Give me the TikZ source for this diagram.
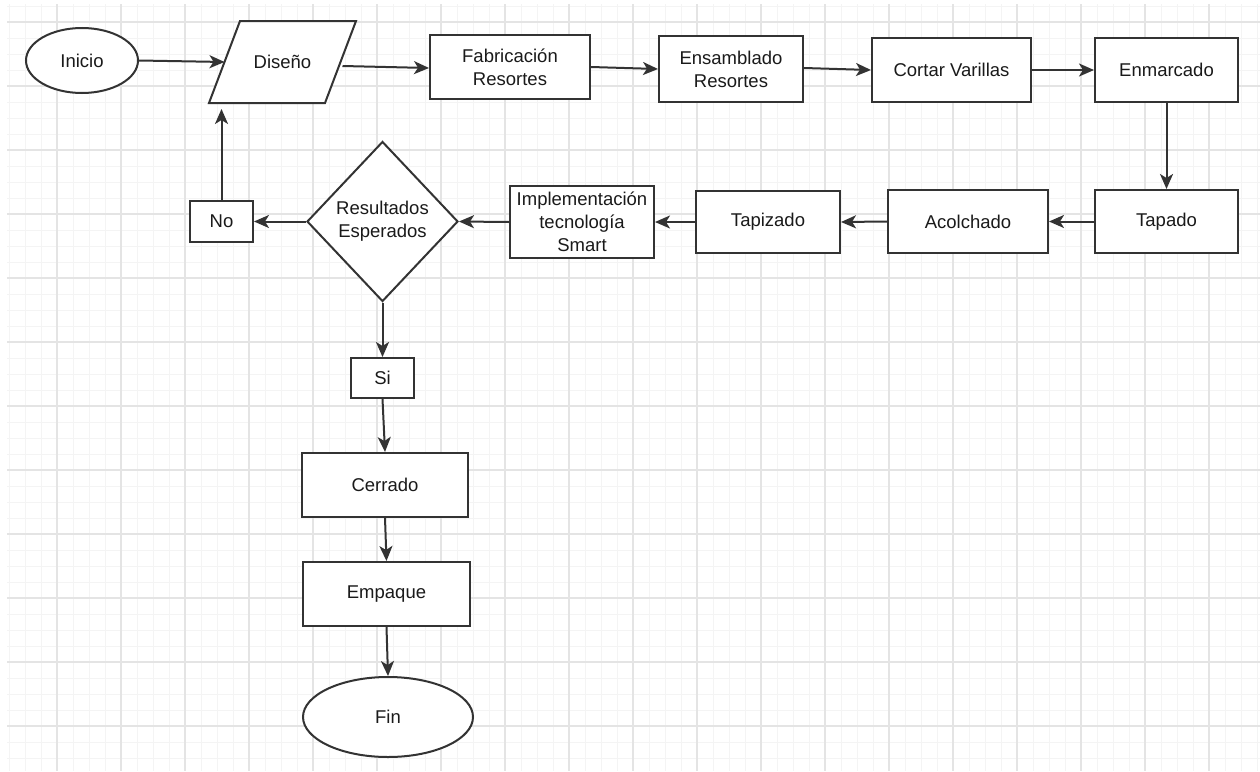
\documentclass[tikz,border=0pt]{standalone}
\usepackage{fontspec}
\setmainfont{Liberation Sans}
\usetikzlibrary{shapes.geometric,arrows.meta}
\definecolor{gridminor}{HTML}{F4F4F4}
\definecolor{gridmajor}{HTML}{E4E4E4}
\definecolor{ink}{HTML}{333333}
\definecolor{txt}{HTML}{1A1A1A}
\begin{document}
\begin{tikzpicture}[x=1pt,y=1pt,
  shp/.style={draw=ink, line width=2pt, fill=white, inner sep=0pt, align=center,
    text=txt, font=\fontsize{18.5pt}{23pt}\selectfont},
  boxn/.style={shp, rectangle},
  ell/.style={shp, ellipse},
  dec/.style={shp, diamond, aspect=0.94},
  arr/.style={draw=ink, line width=2pt, -{Stealth[length=15pt,width=13pt,inset=4pt]}}]
\useasboundingbox (0,0) rectangle (1260,-771);
\fill[white] (0,0) rectangle (1260,-771);
% grid
\begin{scope}
\clip (7,-4) rectangle (1260,-771);
\foreach \gx in {9,25,...,1257} \draw[gridminor, line width=1pt] (\gx,-4) -- (\gx,-771);
\foreach \gy in {6,22,...,766} \draw[gridminor, line width=1pt] (7,-\gy) -- (1260,-\gy);
\foreach \gx in {57,121,...,1257} \draw[gridmajor, line width=1.2pt] (\gx,-4) -- (\gx,-771);
\foreach \gy in {22,86,...,766} \draw[gridmajor, line width=1.2pt] (7,-\gy) -- (1260,-\gy);
\end{scope}
% nodes
\node[ell, minimum width=112pt, minimum height=65pt] (inicio) at (82,-60.5) {Inicio};
\node[shp, draw=none, fill=none, rectangle, minimum width=114pt, minimum height=80pt] (diseno) at (282.5,-62) {};
\filldraw[draw=ink, fill=white, line width=2pt, line join=miter]
  ([xshift=-15.5pt]diseno.south west) -- ([xshift=15.5pt]diseno.north west)
  -- ([xshift=15.5pt]diseno.north east) -- ([xshift=-15.5pt]diseno.south east) -- cycle;
\node[shp, draw=none, fill=none] at (diseno.center) {Diseño};
\node[boxn, minimum width=160pt, minimum height=64pt] (fab) at (510,-67) {Fabricación\\Resortes};
\node[boxn, minimum width=144pt, minimum height=66pt] (ens) at (731,-69) {Ensamblado\\Resortes};
\node[boxn, minimum width=159pt, minimum height=64pt] (cortar) at (951.5,-70) {Cortar Varillas};
\node[boxn, minimum width=143pt, minimum height=64pt] (enm) at (1166.5,-70) {Enmarcado};
\node[boxn, minimum width=143pt, minimum height=63pt] (tapado) at (1166.5,-221.5) {Tapado};
\node[boxn, minimum width=160pt, minimum height=63pt] (acol) at (968,-221.5) {Acolchado};
\node[boxn, minimum width=144pt, minimum height=62pt] (tapiz) at (768,-222) {Tapizado};
\node[boxn, minimum width=144pt, minimum height=72pt] (impl) at (582,-222) {Implementación\\tecnología\\Smart};
\node[dec, minimum width=151pt, minimum height=160pt] (res) at (382.5,-221.5) {Resultados\\Esperados};
\node[boxn, minimum width=63pt, minimum height=41pt] (no) at (221.5,-221.5) {No};
\node[boxn, minimum width=63pt, minimum height=40pt] (si) at (382.5,-378) {Si};
\node[boxn, minimum width=166pt, minimum height=64pt] (cerr) at (385,-485) {Cerrado};
\node[boxn, minimum width=167pt, minimum height=64pt] (emp) at (386.5,-594) {Empaque};
\node[ell, minimum width=170pt, minimum height=80pt] (fin) at (388,-717) {Fin};
% connectors
\draw[arr] (inicio.east) -- (diseno.west);
\draw[arr] ([xshift=2pt,yshift=-4pt]diseno.east) -- ([yshift=-1pt]fab.west);
\draw[arr] (fab.east) -- (ens.west);
\draw[arr] ([yshift=1pt]ens.east) -- (cortar.west);
\draw[arr] (cortar.east) -- (enm.west);
\draw[arr] (enm.south) -- (tapado.north);
\draw[arr] (tapado.west) -- (acol.east);
\draw[arr] (acol.west) -- (tapiz.east);
\draw[arr] (tapiz.west) -- (impl.east);
\draw[arr] (impl.west) -- (res.east);
\draw[arr] (res.west) -- (no.east);
\draw[arr, shorten >=6pt] (no.north) -- (no.north |- diseno.south);
\draw[arr] (res.south) -- (si.north);
\draw[arr] (si.south) -- (cerr.north);
\draw[arr] (cerr.south) -- (emp.north);
\draw[arr] (emp.south) -- (fin.north);
\end{tikzpicture}
\end{document}
